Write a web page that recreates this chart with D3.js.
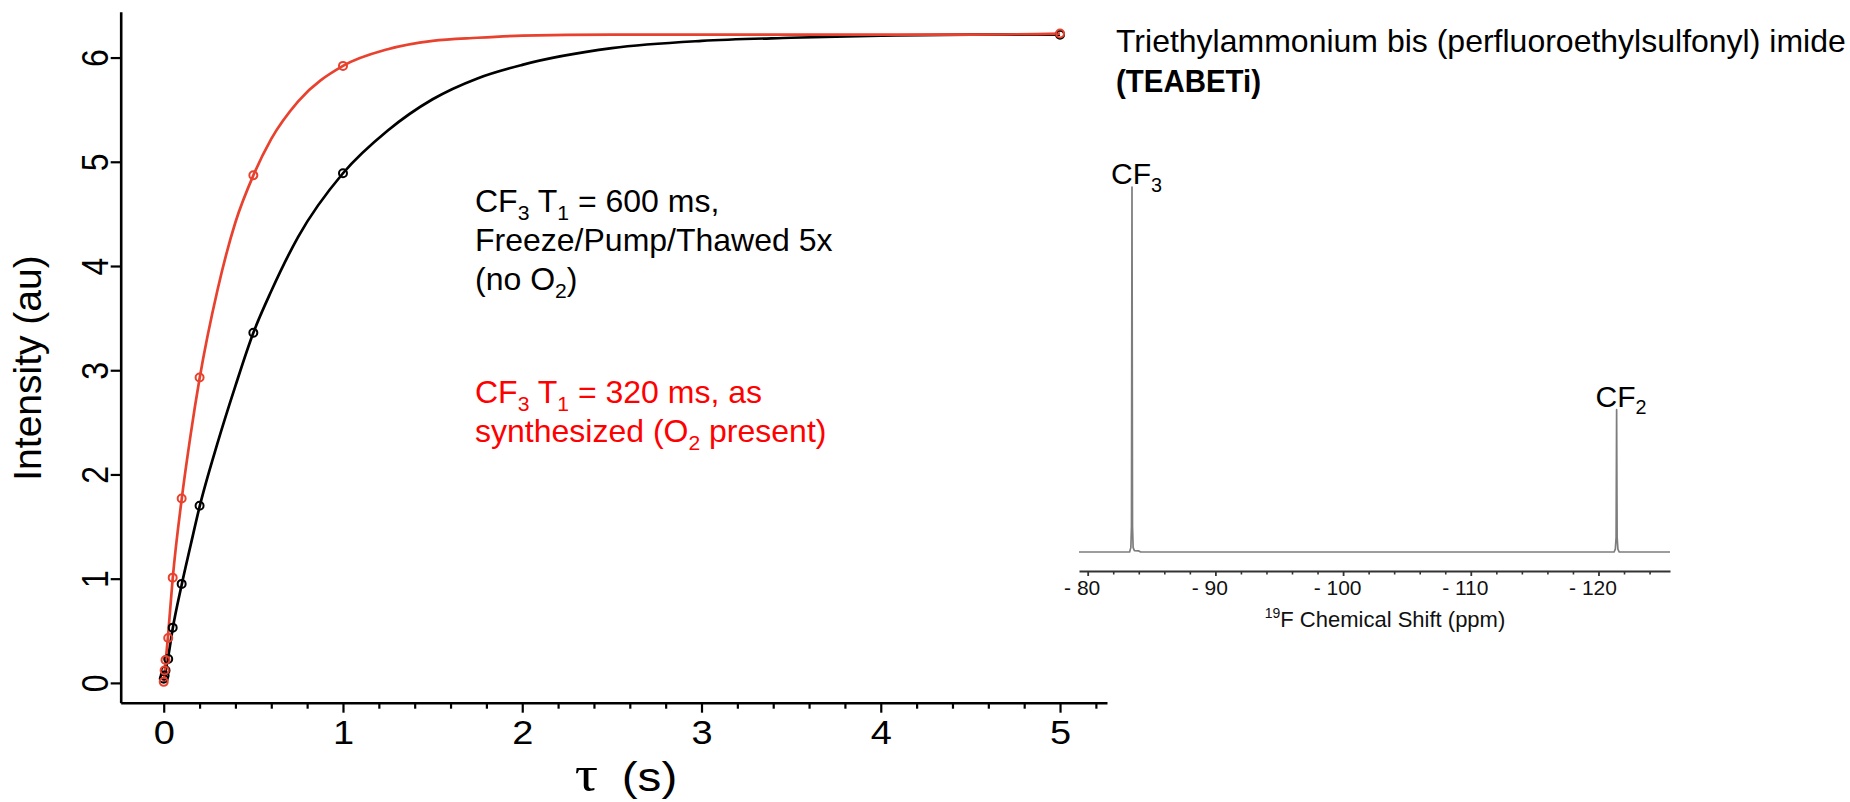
<!DOCTYPE html>
<html>
<head>
<meta charset="utf-8">
<script src="https://cdn.jsdelivr.net/npm/d3@7"></script>
<style>
  html, body { margin: 0; padding: 0; background: #fff; }
  svg { display: block; font-family: "Liberation Sans", Arial, Helvetica, sans-serif; }
</style>
</head>
<body>
<svg id="fig" width="1850" height="802"></svg>
<script>
// ---- Saturation-recovery data: delay τ (s) vs CF3 signal intensity (au)
const delays        = [0, 0.005, 0.01, 0.025, 0.05, 0.1, 0.2, 0.5, 1, 5];
const intensityNoO2 = [0.04, 0.07, 0.12, 0.23, 0.53, 0.95, 1.70, 3.36, 4.89, 6.22];
const intensityO2   = [0.01, 0.12, 0.22, 0.43, 1.01, 1.77, 2.93, 4.87, 5.92, 6.23];

// ---- Fitted recovery curves (sampled)
const fitDelays = [0, 0.025, 0.05, 0.1, 0.15, 0.2, 0.3, 0.4, 0.5, 0.6, 0.75, 1, 1.25, 1.5, 1.75, 2, 2.5, 3, 3.5, 4, 4.5, 5];
const fitNoO2   = [0.02, 0.25, 0.52, 0.94, 1.32, 1.69, 2.30, 2.85, 3.36, 3.76, 4.28, 4.89, 5.30, 5.60, 5.80, 5.93, 6.09, 6.16, 6.19, 6.21, 6.22, 6.22];
const fitO2     = [0.00, 0.47, 1.00, 1.76, 2.38, 2.92, 3.77, 4.42, 4.87, 5.22, 5.58, 5.92, 6.08, 6.16, 6.19, 6.21, 6.22, 6.22, 6.22, 6.22, 6.22, 6.23];

const xTicks = [0, 1, 2, 3, 4, 5];
const yTicks = [0, 1, 2, 3, 4, 5, 6];

// ---- 19F NMR spectrum (chemical shift in ppm, relative intensity)
const shiftPpm       = [-79.32, -83.28, -83.38, -83.43, -83.47, -83.51, -83.56, -83.66, -84.0, -84.15, -121.22, -121.32, -121.38, -121.42, -121.46, -121.52, -121.62, -125.6];
const shiftIntensity = [0, 0, 1.2, 7, 100, 7, 1.2, 0.4, 0.3, 0, 0, 0.8, 4, 39, 4, 0.8, 0, 0];
const shiftTicks     = [-80, -90, -100, -110, -120];
const peakNames      = [{ppm: -83.47, value: 100, base: "CF", sub: "3"},
                        {ppm: -121.42, value: 39, base: "CF", sub: "2"}];

const svg = d3.select("#fig");
const BLACK = "#000";
const RED_LINE = "#e8422f";
const RED_TEXT = "#ff0000";
const SANS = "\"Liberation Sans\", Arial, sans-serif";

// ===== Main relaxation plot =====
const x = d3.scaleLinear().domain([-0.24, 5.262]).range([120.7, 1107]);
const y = d3.scaleLinear().domain([-0.19, 6.44]).range([702.7, 11.7]);

// bottom axis: major ticks with labels
const gx = svg.append("g").attr("transform", `translate(0,${y.range()[0]})`)
  .call(d3.axisBottom(x).tickValues(xTicks).tickSize(10).tickSizeOuter(0).tickFormat(d3.format("d")));
gx.select(".domain").attr("stroke", BLACK).attr("stroke-width", 2.6);
gx.selectAll(".tick line").attr("stroke", BLACK).attr("stroke-width", 2.2);
gx.selectAll(".tick text")
  .attr("y", 41).attr("dy", 0)
  .attr("font-size", 33).attr("fill", BLACK)
  .attr("font-family", SANS)
  .attr("transform", "scale(1.15,1)");

// bottom axis: minor ticks every 0.2 s
const minorX = d3.range(1, 27).map(i => i * 0.2).filter(v => Math.abs(v - Math.round(v)) > 1e-6);
const gxm = svg.append("g").attr("transform", `translate(0,${y.range()[0]})`)
  .call(d3.axisBottom(x).tickValues(minorX).tickSize(6).tickSizeOuter(0).tickFormat(""));
gxm.select(".domain").remove();
gxm.selectAll(".tick line").attr("stroke", BLACK).attr("stroke-width", 2.2);

// left axis
const gy = svg.append("g").attr("transform", `translate(${x.range()[0]},0)`)
  .call(d3.axisLeft(y).tickValues(yTicks).tickSize(10).tickSizeOuter(0).tickFormat(d3.format("d")));
gy.select(".domain").attr("stroke", BLACK).attr("stroke-width", 2.6);
gy.selectAll(".tick line").attr("stroke", BLACK).attr("stroke-width", 2.2);
gy.selectAll(".tick text")
  .attr("x", 0).attr("dy", 0)
  .attr("text-anchor", "middle")
  .attr("font-size", 32).attr("fill", BLACK)
  .attr("font-family", SANS)
  .attr("transform", "translate(-13,0) scale(1.17,1) rotate(-90)");

// axis titles
svg.append("text")
  .attr("transform", "translate(41,368) rotate(-90)")
  .attr("text-anchor", "middle")
  .attr("font-size", 39).attr("fill", BLACK)
  .text("Intensity (au)");

const xt = svg.append("text")
  .attr("transform", "translate(626,791) scale(1.16,1)")
  .attr("text-anchor", "middle")
  .attr("fill", BLACK);
xt.append("tspan").attr("font-family", "\"Liberation Serif\", \"DejaVu Serif\", serif").attr("font-size", 50).text("τ");
xt.append("tspan").attr("font-size", 41).attr("dx", 9).text(" (s)");

// fitted curves
const fitLine = d3.line().x(d => x(d[0])).y(d => y(d[1])).curve(d3.curveMonotoneX);
const curves = [
  {fit: fitNoO2, pts: intensityNoO2, color: BLACK},
  {fit: fitO2, pts: intensityO2, color: RED_LINE}
];
curves.forEach(c => {
  svg.append("path")
    .datum(fitDelays.map((t, i) => [t, c.fit[i]]))
    .attr("d", fitLine)
    .attr("fill", "none")
    .attr("stroke", c.color)
    .attr("stroke-width", 2.7);
});
curves.forEach(c => {
  svg.append("g").selectAll("circle")
    .data(delays.map((t, i) => [t, c.pts[i]]))
    .join("circle")
    .attr("cx", d => x(d[0]))
    .attr("cy", d => y(d[1]))
    .attr("r", 4)
    .attr("fill", "none")
    .attr("stroke", c.color)
    .attr("stroke-width", 2);
});

// ---- rich text helper (subscripts / superscripts)
function richLine(parent, px, py, parts, size, color, weight) {
  const t = parent.append("text")
    .attr("x", px).attr("y", py)
    .attr("font-size", size).attr("fill", color)
    .attr("font-weight", weight || "normal");
  let shift = 0;
  parts.forEach(p => {
    const [str, kind] = Array.isArray(p) ? p : [p, ""];
    let target = 0, fs = size;
    if (kind === "sub") { target = size * 0.26; fs = size * 0.66; }
    if (kind === "sup") { target = -size * 0.38; fs = size * 0.64; }
    t.append("tspan").attr("dy", target - shift).attr("font-size", fs).text(str);
    shift = target;
  });
  return t;
}

// annotations
const ann = svg.append("g");
richLine(ann, 475, 212, ["CF", ["3", "sub"], " T", ["1", "sub"], " = 600 ms,"], 32, BLACK);
richLine(ann, 475, 251, ["Freeze/Pump/Thawed 5x"], 32, BLACK);
richLine(ann, 475, 289.5, ["(no O", ["2", "sub"], ")"], 32, BLACK);
richLine(ann, 475, 403, ["CF", ["3", "sub"], " T", ["1", "sub"], " = 320 ms, as"], 32, RED_TEXT);
richLine(ann, 475, 441.5, ["synthesized (O", ["2", "sub"], " present)"], 32, RED_TEXT);

// compound name
richLine(svg, 1116, 52, ["Triethylammonium bis (perfluoroethylsulfonyl) imide"], 32, BLACK);
richLine(svg, 0, 0, ["(TEABETi)"], 32, BLACK, "bold")
  .attr("transform", "translate(1116,92) scale(0.92,1)");

// ===== 19F spectrum inset =====
const sx = d3.scaleLinear().domain([-79.32, -125.6]).range([1079, 1670]);
const sy = d3.scaleLinear().domain([0, 100]).range([552, 187]);

svg.append("path")
  .datum(shiftPpm.map((p, i) => [p, shiftIntensity[i]]))
  .attr("d", d3.line().x(d => sx(d[0])).y(d => sy(d[1])))
  .attr("fill", "none")
  .attr("stroke", "#7d7d7d")
  .attr("stroke-width", 1.7)
  .attr("stroke-linejoin", "round");

const gs = svg.append("g").attr("transform", "translate(0,571)")
  .call(d3.axisBottom(sx).tickValues(shiftTicks).tickSize(5).tickSizeOuter(0).tickFormat(d => "- " + Math.abs(d)));
gs.select(".domain").attr("stroke", "#333").attr("stroke-width", 2.2);
gs.selectAll(".tick line").attr("stroke", "#333").attr("stroke-width", 1.8);
gs.selectAll(".tick text")
  .attr("x", -6).attr("y", 24).attr("dy", 0)
  .attr("font-size", 21).attr("fill", "#111")
  .attr("font-family", SANS);

const minorS = d3.range(-82, -126, -2).filter(v => v % 10 !== 0);
const gsm = svg.append("g").attr("transform", "translate(0,571)")
  .call(d3.axisBottom(sx).tickValues(minorS).tickSize(3.5).tickSizeOuter(0).tickFormat(""));
gsm.select(".domain").remove();
gsm.selectAll(".tick line").attr("stroke", "#333").attr("stroke-width", 1.6);

// spectrum axis title
const st = svg.append("text").attr("x", 1385).attr("y", 627)
  .attr("text-anchor", "middle").attr("font-size", 22).attr("fill", "#111");
st.append("tspan").attr("font-size", 14).attr("dy", -9).text("19");
st.append("tspan").attr("dy", 9).text("F Chemical Shift (ppm)");

// peak assignments
peakNames.forEach(pk => {
  richLine(svg, sx(pk.ppm) - 21, sy(pk.value) - 3, [pk.base, [pk.sub, "sub"]], 30, BLACK);
});
</script>
</body>
</html>
